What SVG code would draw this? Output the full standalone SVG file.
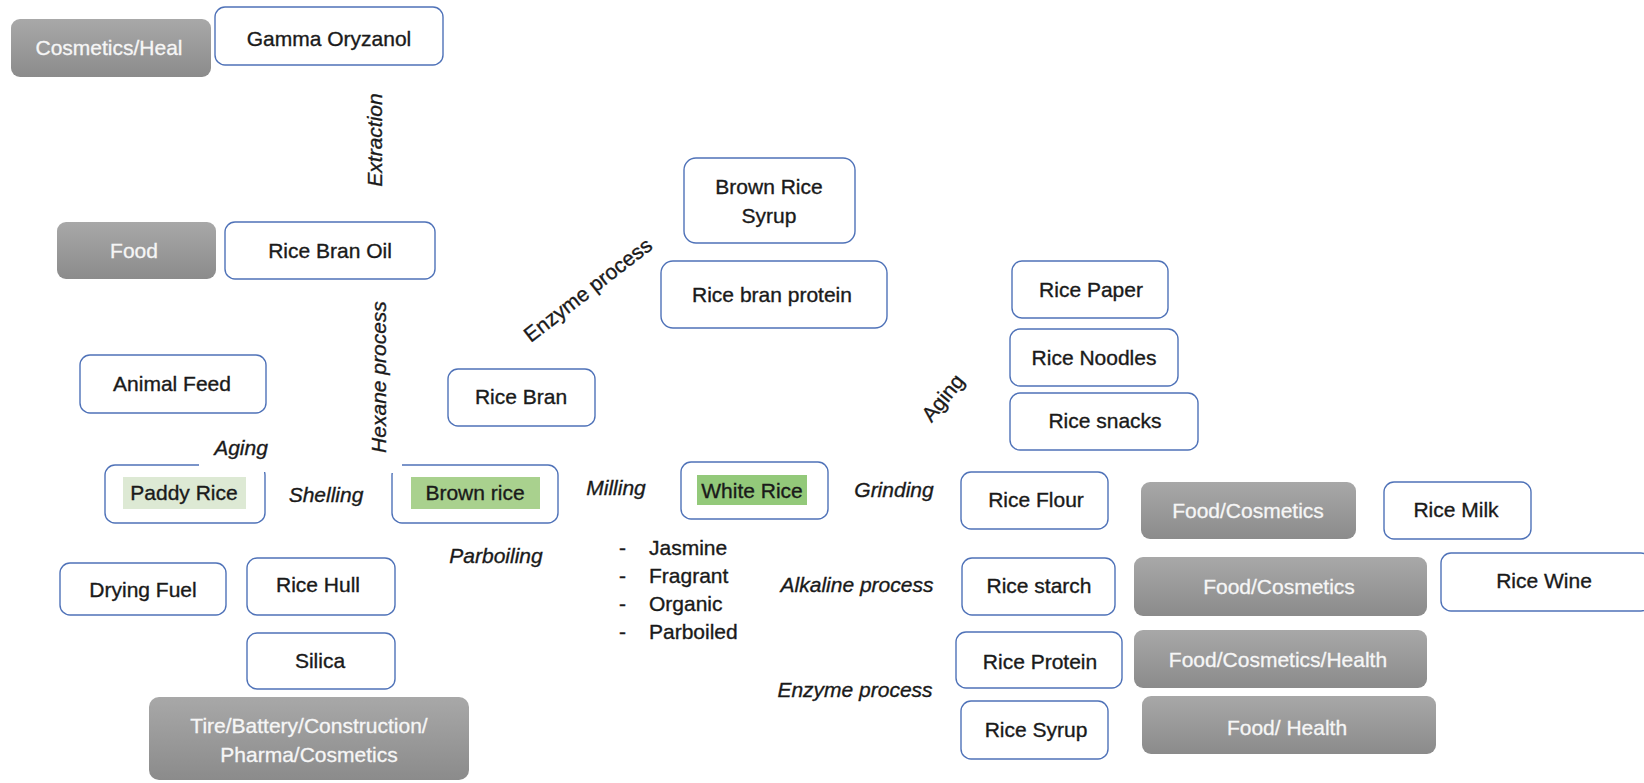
<svg xmlns="http://www.w3.org/2000/svg" width="1644" height="783" viewBox="0 0 1644 783">
<defs>
<linearGradient id="gray" x1="0" y1="0" x2="0" y2="1">
<stop offset="0" stop-color="#a8a8a8"/>
<stop offset="1" stop-color="#8b8b8b"/>
</linearGradient>
<style>
text{font-family:"Liberation Sans",Arial,sans-serif;font-size:21px;fill:#1a1a1a;stroke:#1a1a1a;stroke-width:0.35}
.c{text-anchor:middle}
.w{fill:#f6f6f6;stroke:#f6f6f6;stroke-width:0.3}
.i{font-style:italic}
.box{fill:#ffffff;stroke:#4f72b8;stroke-width:1.4}
.g{fill:url(#gray);stroke:none}
.bg{fill:#ffffff;stroke:none}
</style>
</defs>
<rect width="1644" height="783" fill="#ffffff"/>

<g id="cosmetics-heal"><rect class="g" x="11" y="19" width="200" height="58" rx="9"/><text class="c w" x="109" y="55">Cosmetics/Heal</text></g>
<g id="gamma-oryzanol"><rect class="box" x="215" y="7" width="228" height="58" rx="10"/><text class="c" x="329" y="46">Gamma Oryzanol</text></g>
<g id="food-1"><rect class="g" x="57" y="222" width="159" height="57" rx="9"/><text class="c w" x="134" y="258">Food</text></g>
<g id="rice-bran-oil"><rect class="box" x="225" y="222" width="210" height="57" rx="10"/><text class="c" x="330" y="258">Rice Bran Oil</text></g>
<g id="animal-feed"><rect class="box" x="80" y="355" width="186" height="58" rx="10"/><text class="c" x="172" y="391">Animal Feed</text></g>
<g id="paddy-rice"><rect class="box" x="105" y="465" width="160" height="58" rx="10"/><rect x="123" y="477" width="123" height="32" fill="#dde9d4"/><text class="c" x="184" y="500">Paddy Rice</text></g>
<g id="brown-rice"><rect class="box" x="392" y="465" width="166" height="58" rx="10"/><rect x="411" y="477" width="129" height="32" fill="#a9d18e"/><text class="c" x="475" y="500">Brown rice</text></g>
<g id="rice-bran"><rect class="box" x="448" y="369" width="147" height="57" rx="10"/><text class="c" x="521" y="404">Rice Bran</text></g>
<g id="drying-fuel"><rect class="box" x="60" y="563" width="166" height="52" rx="10"/><text class="c" x="143" y="597">Drying Fuel</text></g>
<g id="rice-hull"><rect class="box" x="247" y="558" width="148" height="57" rx="10"/><text class="c" x="318" y="592">Rice Hull</text></g>
<g id="silica"><rect class="box" x="247" y="633" width="148" height="56" rx="10"/><text class="c" x="320" y="668">Silica</text></g>
<g id="tire"><rect class="g" x="149" y="697" width="320" height="83" rx="10"/><text class="c w" x="309" y="733">Tire/Battery/Construction/</text><text class="c w" x="309" y="762">Pharma/Cosmetics</text></g>
<g id="brown-rice-syrup"><rect class="box" x="684" y="158" width="171" height="85" rx="12"/><text class="c" x="769" y="194">Brown Rice</text><text class="c" x="769" y="223">Syrup</text></g>
<g id="rice-bran-protein"><rect class="box" x="661" y="261" width="226" height="67" rx="12"/><text class="c" x="772" y="302">Rice bran protein</text></g>
<g id="white-rice"><rect class="box" x="681" y="462" width="147" height="57" rx="10"/><rect x="697" y="475" width="110" height="30" fill="#93c97a"/><text class="c" x="752" y="498">White Rice</text></g>
<g id="rice-paper"><rect class="box" x="1012" y="261" width="156" height="57" rx="10"/><text class="c" x="1091" y="297">Rice Paper</text></g>
<g id="rice-noodles"><rect class="box" x="1010" y="329" width="168" height="57" rx="10"/><text class="c" x="1094" y="365">Rice Noodles</text></g>
<g id="rice-snacks"><rect class="box" x="1010" y="393" width="188" height="57" rx="10"/><text class="c" x="1105" y="428">Rice snacks</text></g>
<g id="rice-flour"><rect class="box" x="961" y="472" width="147" height="57" rx="10"/><text class="c" x="1036" y="507">Rice Flour</text></g>
<g id="rice-starch"><rect class="box" x="962" y="558" width="153" height="57" rx="10"/><text class="c" x="1039" y="593">Rice starch</text></g>
<g id="rice-protein"><rect class="box" x="956" y="632" width="166" height="56" rx="10"/><text class="c" x="1040" y="669">Rice Protein</text></g>
<g id="rice-syrup"><rect class="box" x="961" y="701" width="147" height="58" rx="10"/><text class="c" x="1036" y="737">Rice Syrup</text></g>
<g id="food-cosmetics-1"><rect class="g" x="1141" y="482" width="215" height="57" rx="9"/><text class="c w" x="1248" y="518">Food/Cosmetics</text></g>
<g id="rice-milk"><rect class="box" x="1384" y="482" width="147" height="57" rx="10"/><text class="c" x="1456" y="517">Rice Milk</text></g>
<g id="food-cosmetics-2"><rect class="g" x="1134" y="557" width="293" height="59" rx="9"/><text class="c w" x="1279" y="594">Food/Cosmetics</text></g>
<g id="rice-wine"><rect class="box" x="1441" y="553" width="210" height="58" rx="10"/><text class="c" x="1544" y="588">Rice Wine</text></g>
<g id="food-cosmetics-health"><rect class="g" x="1134" y="630" width="293" height="58" rx="9"/><text class="c w" x="1278" y="667">Food/Cosmetics/Health</text></g>
<g id="food-health"><rect class="g" x="1142" y="696" width="294" height="58" rx="9"/><text class="c w" x="1287" y="735">Food/ Health</text></g>

<g id="connectors">
<rect class="bg" x="199" y="438" width="72" height="34"/>
<rect class="bg" x="366" y="296" width="36" height="177"/>
<text class="c i" x="241" y="455">Aging</text>
<text class="c i" transform="translate(382 140) rotate(-90)" x="0" y="0">Extraction</text>
<text class="c i" transform="translate(386 377) rotate(-90)" x="0" y="0">Hexane process</text>
<text class="c" transform="translate(588 290) rotate(-37.7)" x="0" y="7">Enzyme process</text>
<text class="c" transform="translate(943 398) rotate(-51)" x="0" y="7">Aging</text>
<text class="c i" x="326" y="502">Shelling</text>
<text class="c i" x="496" y="563">Parboiling</text>
<text class="c i" x="616" y="495">Milling</text>
<text class="c i" x="894" y="497">Grinding</text>
<text class="c i" x="857" y="592">Alkaline process</text>
<text class="c i" x="855" y="697">Enzyme process</text>
<g id="varieties">
<text x="619" y="555">-</text><text x="649" y="555">Jasmine</text>
<text x="619" y="583">-</text><text x="649" y="583">Fragrant</text>
<text x="619" y="611">-</text><text x="649" y="611">Organic</text>
<text x="619" y="639">-</text><text x="649" y="639">Parboiled</text>
</g>
</g>
</svg>
